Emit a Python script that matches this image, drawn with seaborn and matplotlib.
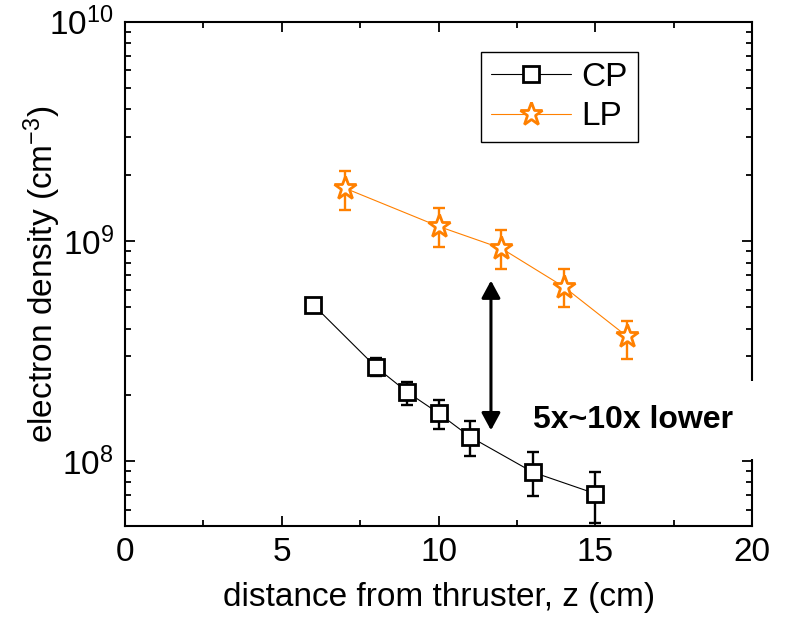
import matplotlib
matplotlib.use("Agg")
import matplotlib.pyplot as plt
import seaborn as sns
import numpy as np
from matplotlib.ticker import LogLocator, MultipleLocator, NullFormatter

# CP data (circular probe)
cp_z = [6, 8, 9, 10, 11, 13, 15]
cp_n = [5.15e8, 2.68e8, 2.06e8, 1.65e8, 1.29e8, 8.9e7, 7.1e7]
cp_low = [5.05e8, 2.45e8, 1.8e8, 1.4e8, 1.05e8, 6.9e7, 5.2e7]
cp_high = [5.25e8, 2.95e8, 2.3e8, 1.9e8, 1.52e8, 1.1e8, 8.9e7]

# LP data (Langmuir probe)
lp_z = [7, 10, 12, 14, 16]
lp_n = [1.75e9, 1.17e9, 9.3e8, 6.2e8, 3.7e8]
lp_low = [1.39e9, 9.4e8, 7.5e8, 5.0e8, 2.9e8]
lp_high = [2.1e9, 1.42e9, 1.13e9, 7.5e8, 4.35e8]

orange = '#FF8000'

sns.set_theme(style="ticks")
plt.rcParams['font.family'] = ['Liberation Sans', 'DejaVu Sans']
plt.rcParams['mathtext.fontset'] = 'custom'
plt.rcParams['mathtext.rm'] = 'Liberation Sans'
plt.rcParams['mathtext.it'] = 'Liberation Sans:italic'
plt.rcParams['text.color'] = 'black'
plt.rcParams['axes.labelcolor'] = 'black'

fig = plt.figure(figsize=(7.86, 6.21), dpi=100)
ax = fig.add_axes([0.159, 0.153, 0.798, 0.812])

# error bars first, under the markers
ax.errorbar(cp_z, cp_n, yerr=[np.array(cp_n) - np.array(cp_low), np.array(cp_high) - np.array(cp_n)],
            fmt='none', ecolor='black', elinewidth=1.7, capsize=4, capthick=1.7, zorder=2.8)
ax.errorbar(lp_z, lp_n, yerr=[np.array(lp_n) - np.array(lp_low), np.array(lp_high) - np.array(lp_n)],
            fmt='none', ecolor=orange, elinewidth=1.7, capsize=4, capthick=1.7, zorder=2.8)

sns.lineplot(x=cp_z, y=cp_n, ax=ax, color='black', lw=0.8, marker='s', markersize=11,
             markerfacecolor='white', markeredgecolor='black', markeredgewidth=2, label='CP', zorder=3)
sns.lineplot(x=lp_z, y=lp_n, ax=ax, color=orange, lw=0.8, marker='*', markersize=17,
             markerfacecolor='white', markeredgecolor=orange, markeredgewidth=2, label='LP', zorder=3)

ax.set_yscale('log')
ax.set_xlim(0, 20)
ax.set_ylim(5.06e7, 1e10)

ax.xaxis.set_major_locator(MultipleLocator(5))
ax.xaxis.set_minor_locator(MultipleLocator(2.5))
ax.yaxis.set_major_locator(LogLocator(base=10, numticks=10))
ax.yaxis.set_minor_locator(LogLocator(base=10, subs=np.arange(2, 10), numticks=10))
ax.yaxis.set_minor_formatter(NullFormatter())

ax.tick_params(which='both', direction='in', top=True, right=True, width=1.3, labelsize=24, colors='black')
ax.tick_params(which='major', length=7, pad=8)
ax.tick_params(which='minor', length=4)
for s in ax.spines.values():
    s.set_linewidth(1.5)
    s.set_color('black')

ax.set_xlabel('distance from thruster, z (cm)', fontsize=24, labelpad=10)
ax.set_ylabel('electron density (cm$^{-3}$)', fontsize=24, labelpad=-10)

# double arrow between the two curves
ax.annotate('', xy=(11.67, 6.63e8), xytext=(11.67, 1.38e8),
            arrowprops=dict(arrowstyle='<|-|>,head_length=0.7,head_width=0.38', mutation_scale=15,
                            lw=2.2, color='black', shrinkA=0, shrinkB=0))
# white box hides the right spine behind the label, but stays under the data lines
ax.text(16.2, 1.54e8, '5x~10x lower', fontsize=23, fontweight='bold', ha='center', va='center',
        zorder=2.7, clip_on=False,
        bbox=dict(boxstyle='square,pad=0.75', fc='white', ec='none'))

leg = ax.legend(loc='upper left', bbox_to_anchor=(0.568, 0.94), fontsize=24, frameon=True,
                fancybox=False, framealpha=1, edgecolor='black', handlelength=2.4,
                handletextpad=0.3, borderpad=0.3, labelspacing=0.25, borderaxespad=0)
leg.get_frame().set_linewidth(1.0)

plt.savefig('out.png', dpi=100)
plt.close()
